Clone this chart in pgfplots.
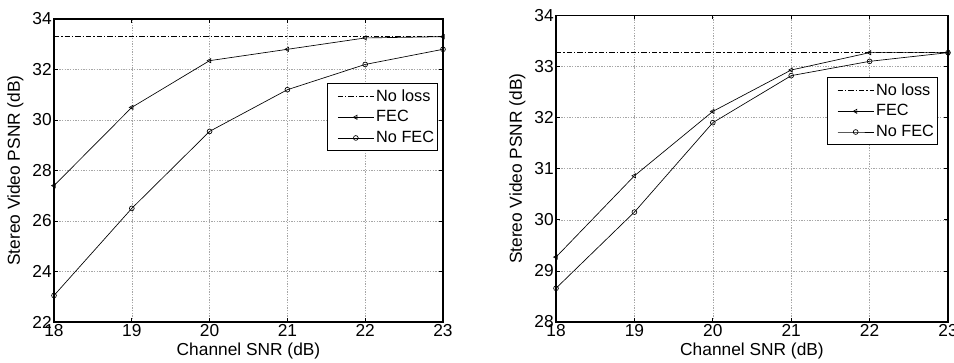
\documentclass[border=0pt]{standalone}
\usepackage{pgfplots}
\pgfplotsset{compat=1.18}
\usepackage{fontspec}
\setmainfont{Liberation Sans}
\begin{document}
\begin{tikzpicture}
\pgfplotsset{
 mystyle/.style={
  scale only axis, anchor=south west,
  xmin=18, xmax=23, xtick={18,19,20,21,22,23},
  grid=major,
  major grid style={gray!70, line width=0.4pt, dash pattern=on 1pt off 1pt},
  tick align=inside, major tick length=3pt,
  tick style={black, line width=0.5pt},
  xtick pos=both, ytick pos=both,
  axis line style={black, line width=0.8pt},
  font=\fontsize{13}{15}\selectfont,
  /pgf/number format/assume math mode=true,
  xlabel={Channel SNR (dB)}, ylabel={Stereo Video PSNR (dB)},
  every axis x label/.style={at={(rel axis cs:0.5,0)}, anchor=base, yshift=-24.75pt},
  every axis y label/.style={at={(rel axis cs:0,0.5)}, xshift=-29pt, anchor=center, rotate=90},
  xticklabel style={inner sep=1pt, yshift=-0.5pt},
  yticklabel style={inner sep=1.5pt},
  legend cell align=left,
  legend style={draw=black, line width=0.8pt, font=\fontsize{12.2}{14}\selectfont,
     inner xsep=1pt, inner ysep=3pt, row sep=2.5pt, nodes={inner sep=1.5pt}},
  legend image code/.code={\path (-6.5pt,0pt); \draw[mark repeat=2,mark phase=2,##1] plot coordinates {(0pt,0pt)(13.5pt,0pt)(27pt,0pt)};},
 },
 noloss/.style={black, line width=0.6pt, dash pattern=on 4pt off 1.5pt on 1pt off 1.5pt, no markers},
 fec/.style={black, line width=0.5pt, mark=triangle, mark size=1.8pt, mark options={rotate=90, solid, line width=0.5pt}},
 nofec/.style={black, line width=0.5pt, mark=o, mark size=1.8pt, mark options={solid, line width=0.5pt}},
}
\begin{axis}[mystyle, at={(40.5pt,30pt)}, width=291.75pt, height=227.25pt,
  ymin=22, ymax=34, ytick={22,24,26,28,30,32,34},
  legend style={at={(0.987,0.789)}, anchor=north east}]
\addplot[noloss] coordinates {(18,33.3) (23,33.3)};
\addlegendentry{No loss}
\addplot[fec] coordinates {(18,27.4) (19,30.5) (20,32.35) (21,32.8) (22,33.25) (23,33.3)};
\addlegendentry{FEC}
\addplot[nofec] coordinates {(18,23.05) (19,26.5) (20,29.55) (21,31.2) (22,32.2) (23,32.8)};
\addlegendentry{No FEC}
\end{axis}
\begin{axis}[mystyle, at={(417pt,30pt)}, width=294pt, height=230pt,
  ymin=28, ymax=34, ytick={28,29,30,31,32,33,34},
  legend style={at={(0.974,0.799)}, anchor=north east}]
\addplot[noloss] coordinates {(18,33.28) (23,33.28)};
\addlegendentry{No loss}
\addplot[fec] coordinates {(18,29.27) (19,30.86) (20,32.12) (21,32.93) (22,33.27) (23,33.27)};
\addlegendentry{FEC}
\addplot[nofec] coordinates {(18,28.66) (19,30.15) (20,31.9) (21,32.82) (22,33.1) (23,33.27)};
\addlegendentry{No FEC}
\end{axis}
\pgfresetboundingbox
\path[use as bounding box] (0,0) rectangle (715.5pt,271.5pt);
\end{tikzpicture}
\end{document}
